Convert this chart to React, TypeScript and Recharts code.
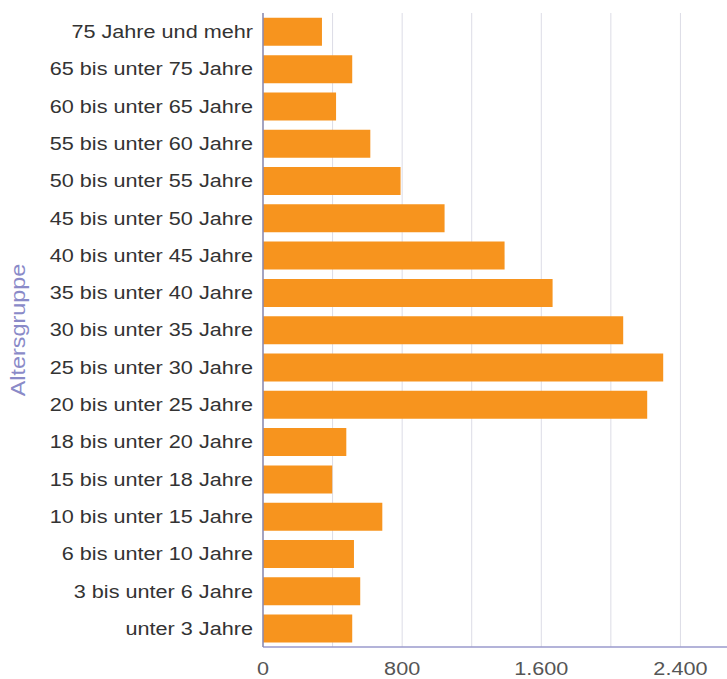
import { BarChart, Bar, XAxis, YAxis, CartesianGrid } from 'recharts';

// Age groups, listed top to bottom
const groups = [
  '75 Jahre und mehr',
  '65 bis unter 75 Jahre',
  '60 bis unter 65 Jahre',
  '55 bis unter 60 Jahre',
  '50 bis unter 55 Jahre',
  '45 bis unter 50 Jahre',
  '40 bis unter 45 Jahre',
  '35 bis unter 40 Jahre',
  '30 bis unter 35 Jahre',
  '25 bis unter 30 Jahre',
  '20 bis unter 25 Jahre',
  '18 bis unter 20 Jahre',
  '15 bis unter 18 Jahre',
  '10 bis unter 15 Jahre',
  '6 bis unter 10 Jahre',
  '3 bis unter 6 Jahre',
  'unter 3 Jahre',
];

const counts = [339, 513, 420, 617, 791, 1044, 1389, 1665, 2071, 2301, 2209, 479, 398, 686, 523, 559, 513];

// grid every 400, labels every 800
const gridTicks = [0, 400, 800, 1200, 1600, 2000, 2400, 2800];
const labelTicks = [0, 800, 1600, 2400];

const data = groups.map((group, i) => ({ group, count: counts[i] }));

const FONT = '"Liberation Sans", Arial, sans-serif';
const STRETCH = 1.17;

const fmt = (n: number) => String(n).replace(/\B(?=(\d{3})+(?!\d))/g, '.');

function GroupTick({ x, y, payload }: any) {
  return (
    <g transform={`translate(${x},${y}) scale(${STRETCH},1)`}>
      <text textAnchor="end" dy="0.35em" fill="#333" fontSize={18.5} fontFamily={FONT}>
        {payload.value}
      </text>
    </g>
  );
}

function ValueTick({ x, y, payload }: any) {
  if (!labelTicks.includes(payload.value)) return <g />;
  return (
    <g transform={`translate(${x},${y}) scale(${STRETCH},1)`}>
      <text textAnchor="middle" dy="0.71em" fill="#555" fontSize={18.5} fontFamily={FONT}>
        {fmt(payload.value)}
      </text>
    </g>
  );
}

function AxisTitle({ viewBox }: any) {
  const cy = viewBox.y + viewBox.height / 2;
  return (
    <text
      transform={`translate(17,${cy}) rotate(-90) scale(1.3,1.08)`}
      textAnchor="middle"
      fill="#8a8ac8"
      fontSize={18}
      fontFamily={FONT}
    >
      Altersgruppe
    </text>
  );
}

export default function App() {
  return (
    <div style={{ position: 'absolute', left: 8, top: 8, width: 719, height: 671, overflow: 'hidden', background: '#fff' }}>
      <BarChart
        layout="vertical"
        width={742}
        height={671}
        data={data}
        margin={{ top: 5, right: 0, bottom: 0, left: 0 }}
        barCategoryGap="13%"
      >
        <CartesianGrid horizontal={false} stroke="#dcdce6" />
        <XAxis
          type="number"
          domain={[0, 2800]}
          ticks={gridTicks}
          height={32}
          tickLine={false}
          tickSize={0}
          tickMargin={15}
          axisLine={{ stroke: '#9a9acc', strokeWidth: 1.5 }}
          tick={<ValueTick />}
          interval={0}
        />
        <YAxis
          type="category"
          dataKey="group"
          width={255}
          tickLine={false}
          tickSize={0}
          tickMargin={10}
          axisLine={{ stroke: '#8a8ab0', strokeWidth: 1.5 }}
          tick={<GroupTick />}
          interval={0}
          label={{ content: <AxisTitle /> }}
        />
        <Bar dataKey="count" fill="#f7941e" isAnimationActive={false} />
      </BarChart>
    </div>
  );
}
